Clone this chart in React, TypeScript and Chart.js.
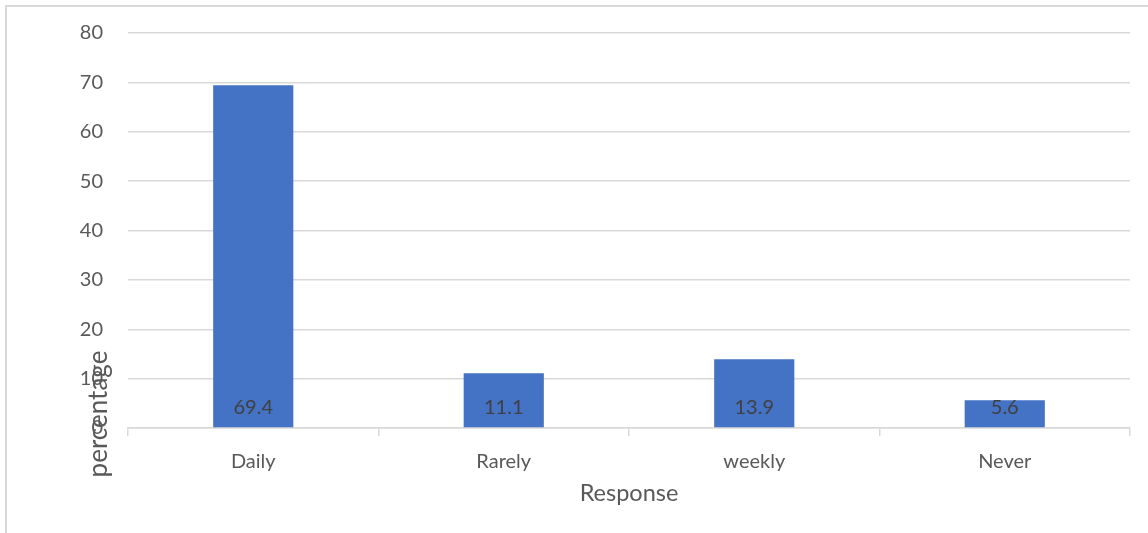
import React, { useEffect, useRef } from "react";
import { Chart, registerables } from "chart.js";

Chart.register(...registerables);

const categories = ["Daily", "Rarely", "weekly", "Never"];
const percentages = [69.4, 11.1, 13.9, 5.6];
const yTicks = [0, 10, 20, 30, 40, 50, 60, 70, 80];

const FONT = "Lato, 'Open Sans', sans-serif";
const GRID = "#d9d9d9";

// Writes each bar's value just above its base, inside the bar.
const valueLabels = {
  id: "valueLabels",
  afterDatasetsDraw(chart: any) {
    const ctx = chart.ctx;
    const meta = chart.getDatasetMeta(0);
    ctx.save();
    ctx.font = `20px ${FONT}`;
    ctx.fillStyle = "#404040";
    ctx.textAlign = "center";
    ctx.textBaseline = "middle";
    meta.data.forEach((bar: any, i: number) => {
      ctx.fillText(String(percentages[i]), bar.x, bar.base - 20);
    });
    ctx.restore();
  },
};

// Rotated y-axis title, sitting low beside the axis.
const yTitle = {
  id: "yTitle",
  afterDraw(chart: any) {
    const ctx = chart.ctx;
    ctx.save();
    ctx.translate(99, 414);
    ctx.rotate(-Math.PI / 2);
    ctx.font = `26px ${FONT}`;
    ctx.fillStyle = "#595959";
    ctx.textAlign = "center";
    ctx.textBaseline = "middle";
    ctx.fillText("percentage", 0, 0);
    ctx.restore();
  },
};

export default function App() {
  const canvasRef = useRef<HTMLCanvasElement | null>(null);

  useEffect(() => {
    if (!canvasRef.current) return;
    const chart = new Chart(canvasRef.current, {
      type: "bar",
      data: {
        labels: categories,
        datasets: [
          {
            data: percentages,
            backgroundColor: "#4472c4",
            borderWidth: 0,
            barPercentage: 0.32,
            categoryPercentage: 1,
          },
        ],
      },
      options: {
        responsive: false,
        animation: false,
        layout: { padding: { left: 0, right: 18, top: 33, bottom: 0 } },
        plugins: {
          legend: { display: false },
          tooltip: { enabled: false },
        },
        scales: {
          x: {
            grid: {
              drawOnChartArea: false,
              drawTicks: true,
              tickLength: 8,
              color: GRID,
              lineWidth: 1.5,
            },
            border: { display: true, color: GRID, width: 1.5 },
            ticks: {
              color: "#595959",
              font: { family: FONT, size: 20 },
              padding: 14,
            },
            title: {
              display: true,
              text: "Response",
              color: "#595959",
              font: { family: FONT, size: 23.5 },
              padding: { top: 0, bottom: 25 },
            },
            afterFit(scale: any) {
              scale.height = 533 - 428;
            },
          },
          y: {
            min: 0,
            max: 80,
            afterBuildTicks(scale: any) {
              scale.ticks = yTicks.map((v) => ({ value: v }));
            },
            grid: {
              color: GRID,
              lineWidth: 1.5,
              drawTicks: true,
              tickLength: 25,
              tickColor: "rgba(0,0,0,0)",
            },
            border: { display: false },
            ticks: {
              color: "#595959",
              font: { family: FONT, size: 20 },
              padding: 0,
            },
            afterFit(scale: any) {
              scale.width = 128;
            },
          },
        },
      },
      plugins: [valueLabels, yTitle],
    });
    return () => chart.destroy();
  }, []);

  return (
    <div
      style={{
        position: "fixed",
        left: 0,
        top: 0,
        width: 1148,
        height: 533,
        overflow: "hidden",
        background: "#ffffff",
      }}
    >
      <div
        style={{
          position: "absolute",
          left: 5,
          top: 5,
          width: 1200,
          height: 600,
          borderLeft: `2px solid ${GRID}`,
          borderTop: `2px solid ${GRID}`,
        }}
      />
      <canvas
        ref={canvasRef}
        width={1148}
        height={533}
        style={{ position: "absolute", left: 0, top: 0, width: 1148, height: 533 }}
      />
    </div>
  );
}
